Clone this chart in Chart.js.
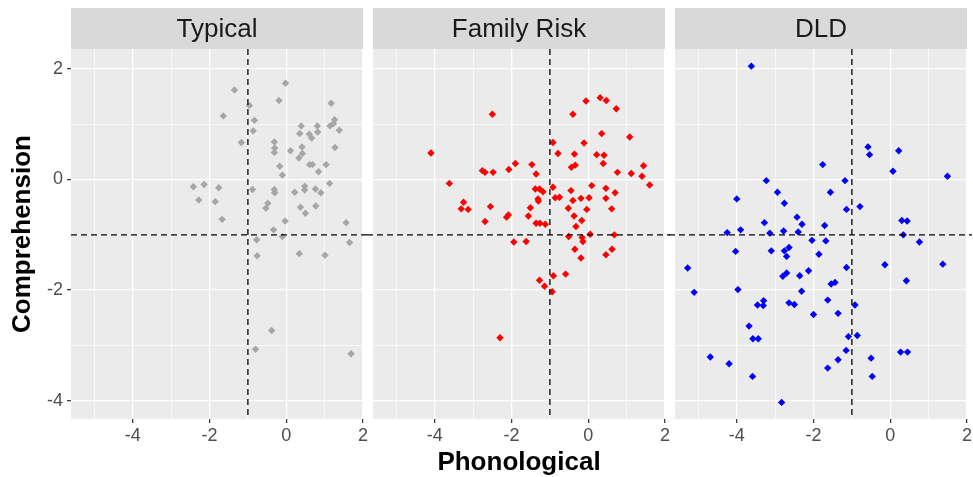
<!DOCTYPE html>
<html lang="en">
<head>
<meta charset="UTF-8">
<title>Phonological x Comprehension</title>
<script src="https://cdn.jsdelivr.net/npm/chart.js"></script>
<style>
  body { margin: 0; background: #ffffff; }
  #tela { position: relative; width: 973px; height: 477px; overflow: hidden; }
  #tela canvas { position: absolute; top: 0; }
</style>
</head>
<body>
<div id="tela">
  <canvas id="painelTypical" width="368" height="477" style="left:0px"></canvas>
  <canvas id="painelRisk" width="368" height="477" style="left:302px"></canvas>
  <canvas id="painelDLD" width="368" height="477" style="left:604px"></canvas>
</div>

<script>
  // dados (x = Phonological, y = Comprehension)
  var grupos = ['Typical', 'Family Risk', 'DLD'];
  var cores = ['#a6a6a6', '#ff0000', '#0000ff'];

  var typicalX = [-1.35, -1.64, -1.17, -0.96, -0.83, -0.86, -0.19, -0.02, -0.31, -0.30, -0.31, -0.17, -0.10, 0.11, 0.35, 0.39, 0.41, 0.42, 0.33, 0.60, 0.66, 0.81, 0.82, 0.61, 0.68, 0.84, 1.04, 1.17, 1.14, 1.26, 1.23, 1.38, 1.27, 1.13, -2.42, -2.14, -2.28, -1.85, -1.76, -1.67, -0.88, -0.31, -0.30, 0.22, 0.48, 0.48, 0.76, 0.90, -0.48, -0.53, 0.37, 0.50, 0.77, -0.03, 1.56, -0.33, -0.77, -0.10, -0.76, 0.34, 1.01, 1.65, -0.38, -0.80, 1.69];
  var typicalY = [1.62, 1.15, 0.67, 1.34, 1.07, 0.88, 1.43, 1.74, 0.68, 0.57, 0.49, 0.24, 0.08, 0.52, 0.83, 0.97, 0.59, 0.47, 0.39, 0.82, 0.75, 0.97, 0.86, 0.27, 0.27, 0.14, 0.27, 1.38, 0.97, 1.08, 1.01, 0.89, 0.58, -0.07, -0.13, -0.09, -0.37, -0.40, -0.15, -0.72, -0.18, -0.18, -0.24, -0.23, -0.12, -0.19, -0.17, -0.24, -0.43, -0.52, -0.50, -0.61, -0.48, -0.75, -0.78, -0.91, -1.09, -1.03, -1.38, -1.34, -1.37, -1.14, -2.73, -3.07, -3.15];

  var riskX = [-4.10, -3.62, -3.25, -3.31, -3.13, -2.50, -2.76, -2.69, -2.48, -2.55, -2.69, -2.07, -1.90, -2.08, -2.13, -1.47, -1.36, -1.38, -1.27, -1.18, -1.31, -1.30, -1.51, -1.56, -1.36, -1.26, -1.12, -0.92, -0.79, -0.92, -0.86, -0.75, -0.40, -0.06, 0.31, 0.47, 0.73, 0.35, -0.11, -0.36, 0.22, 0.41, 0.39, -0.44, -0.34, 1.08, 0.76, 1.12, 1.44, 1.40, 1.60, 0.09, 0.46, 0.70, -0.45, -0.40, -0.19, 0.02, 0.46, -0.52, -0.04, 0.61, -0.37, -0.17, -0.32, -0.51, -0.16, -0.14, 0.05, 0.68, -1.94, -1.62, -0.35, -0.19, 0.46, 0.62, -0.59, -0.91, -1.27, -1.14, -0.94, -2.30];
  var riskY = [0.48, -0.07, -0.41, -0.53, -0.54, 1.18, 0.16, 0.13, 0.13, -0.49, -0.76, 0.18, 0.29, -0.64, -0.68, 0.27, 0.10, -0.17, -0.17, -0.22, -0.35, -0.39, -0.51, -0.66, -0.79, -0.79, -0.81, 0.67, 0.47, -0.14, -0.33, -0.32, 1.18, 1.42, 1.48, 1.43, 1.28, 0.83, 0.66, 0.46, 0.45, 0.44, 0.29, 0.22, 0.26, 0.77, 0.13, 0.11, 0.25, 0.06, -0.10, -0.11, -0.16, -0.24, -0.20, -0.38, -0.34, -0.33, -0.34, -0.52, -0.54, -0.53, -0.66, -0.74, -0.85, -1.03, -1.05, -1.12, -0.99, -1.00, -1.13, -1.12, -1.26, -1.42, -1.36, -1.26, -1.71, -1.74, -1.82, -1.93, -2.03, -2.86];

  var dldX = [-3.62, -4.00, -3.23, -2.94, -2.76, -3.28, -3.90, -4.25, -3.14, -2.78, -2.43, -2.30, -2.40, -1.76, -1.56, -1.18, -1.14, -1.71, -0.79, -0.58, -0.54, 0.07, 0.22, 1.49, 0.30, 0.44, 0.34, 0.76, -2.04, -1.68, -4.03, -3.10, -2.76, -2.64, -2.70, -1.86, -5.28, -2.80, -2.70, -2.36, -2.13, -1.14, -0.14, 1.37, -1.54, -1.44, 0.42, -5.11, -3.97, -2.31, -1.63, -3.30, -3.46, -3.31, -2.64, -2.50, -0.92, -2.00, -1.36, -3.68, -3.58, -3.44, -1.09, -0.86, -1.15, 0.27, 0.45, -4.69, -1.36, -0.50, -4.20, -1.63, -3.59, -0.47, -2.83];
  var dldY = [2.05, -0.35, -0.02, -0.23, -0.43, -0.78, -0.91, -0.96, -0.97, -0.93, -0.68, -0.81, -0.95, 0.27, -0.23, -0.02, -0.54, -0.83, -0.49, 0.59, 0.45, 0.15, 0.52, 0.06, -0.74, -0.75, -1.00, -1.13, -1.10, -1.11, -1.30, -1.29, -1.29, -1.23, -1.39, -1.35, -1.60, -1.75, -1.69, -1.74, -1.65, -1.59, -1.54, -1.53, -1.89, -1.86, -1.83, -2.04, -1.99, -2.02, -2.18, -2.19, -2.27, -2.28, -2.23, -2.26, -2.27, -2.44, -2.42, -2.65, -2.88, -2.88, -2.84, -2.82, -3.09, -3.12, -3.12, -3.21, -3.26, -3.23, -3.33, -3.41, -3.56, -3.56, -4.03];

  var xTicks = [-4, -2, 0, 2];
  var yTicks = [-4, -2, 0, 2];
  var corteX = -1;
  var corteY = -1;
  var limX = [-5.61, 2.0];
  var limY = [-4.33, 2.36];

  Chart.defaults.font.family = "'Liberation Sans', Arial, sans-serif";

  function juntaPontos(xs, ys) {
    var pts = [];
    for (var i = 0; i < xs.length; i++) {
      pts.push({ x: xs[i], y: ys[i] });
    }
    return pts;
  }

  function ehMaior(ctx, lista) {
    return ctx.tick && lista.indexOf(ctx.tick.value) >= 0;
  }

  // fundo cinza, faixa do titulo e linhas tracejadas
  var painelPlugin = {
    id: 'painel',
    beforeDraw: function (chart, args, opts) {
      var a = chart.chartArea;
      var c = chart.ctx;
      c.save();
      c.fillStyle = '#ebebeb';
      c.fillRect(a.left, a.top, a.right - a.left, a.bottom - a.top);
      c.fillStyle = '#d9d9d9';
      c.fillRect(a.left, 8, a.right - a.left, a.top - 8);
      c.fillStyle = '#1a1a1a';
      c.font = "26px 'Liberation Sans', Arial, sans-serif";
      c.textAlign = 'center';
      c.textBaseline = 'middle';
      c.fillText(opts.titulo, (a.left + a.right) / 2, (8 + a.top) / 2 + 1);
      c.restore();
    },
    afterDatasetsDraw: function (chart, args, opts) {
      var a = chart.chartArea;
      var c = chart.ctx;
      var px = chart.scales.x.getPixelForValue(corteX);
      var py = chart.scales.y.getPixelForValue(corteY);
      c.save();
      c.strokeStyle = '#000000';
      c.lineWidth = 1.3;
      c.setLineDash([6, 4]);
      c.beginPath();
      c.moveTo(px, a.top);
      c.lineTo(px, a.bottom);
      c.stroke();
      c.beginPath();
      c.moveTo(a.left - opts.extraEsq, py);
      c.lineTo(a.right + opts.extraDir, py);
      c.stroke();
      c.restore();
    }
  };

  function criaPainel(idCanvas, titulo, pontos, cor, mostraY, mostraTituloX, extraEsq, extraDir) {
    return new Chart(document.getElementById(idCanvas), {
      type: 'scatter',
      data: {
        datasets: [{
          data: pontos,
          pointStyle: 'rectRot',
          pointRadius: 3.7,
          pointBorderWidth: 0,
          backgroundColor: cor,
          borderColor: cor
        }]
      },
      options: {
        responsive: false,
        animation: false,
        devicePixelRatio: 1,
        layout: { padding: { top: 49, right: 5, bottom: 0, left: 0 } },
        plugins: {
          legend: { display: false },
          tooltip: { enabled: false },
          painel: { titulo: titulo, extraEsq: extraEsq, extraDir: extraDir }
        },
        scales: {
          x: {
            type: 'linear',
            min: limX[0],
            max: limX[1],
            border: { display: false },
            grid: {
              color: '#ffffff',
              lineWidth: function (ctx) { return ehMaior(ctx, xTicks) ? 1.3 : 0.65; },
              tickColor: function (ctx) { return ehMaior(ctx, xTicks) ? '#333333' : 'rgba(0,0,0,0)'; },
              tickLength: 4,
              tickWidth: 1.2
            },
            ticks: {
              stepSize: 1,
              includeBounds: false,
              autoSkip: false,
              maxRotation: 0,
              padding: 2,
              color: '#4d4d4d',
              font: { size: 18 },
              callback: function (v) { return xTicks.indexOf(v) >= 0 ? String(v) : ''; }
            },
            title: {
              display: mostraTituloX,
              text: 'Phonological',
              color: '#000000',
              font: { size: 26, weight: 'bold', lineHeight: 1.1 },
              padding: { top: 0, bottom: 0 }
            },
            afterFit: function (s) {
              s.height = 58;
              s.paddingLeft = 0;
              s.paddingRight = 0;
            }
          },
          y: {
            type: 'linear',
            min: limY[0],
            max: limY[1],
            border: { display: false },
            grid: {
              color: '#ffffff',
              lineWidth: function (ctx) { return ehMaior(ctx, yTicks) ? 1.3 : 0.65; },
              tickColor: function (ctx) { return (mostraY && ehMaior(ctx, yTicks)) ? '#333333' : 'rgba(0,0,0,0)'; },
              tickLength: 4,
              tickWidth: 1.2
            },
            ticks: {
              display: mostraY,
              stepSize: 1,
              includeBounds: false,
              autoSkip: false,
              padding: 4,
              color: '#4d4d4d',
              font: { size: 18 },
              callback: function (v) { return yTicks.indexOf(v) >= 0 ? String(v) : ''; }
            },
            title: {
              display: mostraY,
              text: 'Comprehension',
              color: '#000000',
              font: { size: 26, weight: 'bold', lineHeight: 1.2 },
              padding: { top: 7, bottom: 0 }
            },
            afterFit: function (s) {
              s.width = 71;
              s.paddingTop = 0;
              s.paddingBottom = 0;
            }
          }
        }
      },
      plugins: [painelPlugin]
    });
  }

  criaPainel('painelTypical', grupos[0], juntaPontos(typicalX, typicalY), cores[0], true, false, 0, 6);
  criaPainel('painelRisk', grupos[1], juntaPontos(riskX, riskY), cores[1], false, true, 6, 6);
  criaPainel('painelDLD', grupos[2], juntaPontos(dldX, dldY), cores[2], false, false, 6, 6);
</script>
</body>
</html>
